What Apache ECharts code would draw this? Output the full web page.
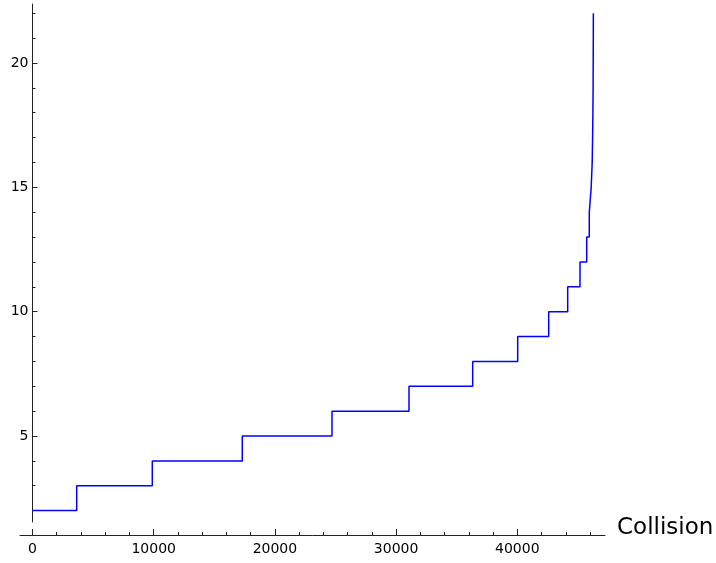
<!DOCTYPE html>
<html>
<head>
<meta charset="utf-8">
<script src="https://cdn.jsdelivr.net/npm/echarts@6/dist/echarts.min.js"></script>
<style>
html,body{margin:0;padding:0;background:#fff;}
#chart{width:716px;height:563px;}
</style>
</head>
<body>
<div id="chart"></div>
<script>
// Collision count at which each level begins (step function)
const collisions = [0, 3647, 9884, 17310, 24711, 31064, 36320, 40033, 42591, 44158, 45173, 45726, 45940, 46097, 46180, 46213, 46238, 46254, 46262, 46271, 46275];
const levels = [2, 3, 4, 5, 6, 7, 8, 9, 10, 11, 12, 13, 14, 15, 16, 17, 18, 19, 20, 21, 22];

const xMajorTicks = [0, 10000, 20000, 30000, 40000];
const xMinorTicks = [2000, 4000, 6000, 8000, 12000, 14000, 16000, 18000, 22000, 24000, 26000, 28000, 32000, 34000, 36000, 38000, 42000, 44000, 46000];
const yMajorTicks = [5, 10, 15, 20];
const yMinorTicks = [2, 3, 4, 6, 7, 8, 9, 11, 12, 13, 14, 16, 17, 18, 19, 21, 22];

const xName = 'Collision';
const xMin = -1031, xMax = 47236;
const yMin = 1.542, yMax = 22.373;

const data = collisions.map((c, i) => [c, levels[i]]);

const axisColor = '#222';
const font = 'DejaVu Sans';

const chart = echarts.init(document.getElementById('chart'), null, {renderer: 'canvas'});
chart.setOption({
  animation: false,
  backgroundColor: '#ffffff',
  grid: {left: 20, right: 111, top: 4, bottom: 41, containLabel: false, outerBoundsMode: 'none'},
  xAxis: [
    {
      type: 'value', min: xMin, max: xMax, position: 'bottom', offset: 13,
      axisLine: {show: true, onZero: false, lineStyle: {color: axisColor, width: 1}},
      axisTick: {show: true, inside: true, length: 6, customValues: xMajorTicks, lineStyle: {color: axisColor}},
      axisLabel: {customValues: xMajorTicks, fontSize: 14, fontFamily: font, color: '#000', margin: 7,
                  formatter: v => String(v)},
      splitLine: {show: false},
      name: xName, nameLocation: 'end', nameGap: 12,
      nameTextStyle: {fontSize: 23, fontFamily: font, color: '#000', align: 'left', verticalAlign: 'bottom', lineHeight: 13}
    },
    {
      type: 'value', min: xMin, max: xMax, position: 'bottom', offset: 13,
      axisLine: {show: false, onZero: false},
      axisTick: {show: true, inside: true, length: 3, customValues: xMinorTicks, lineStyle: {color: axisColor}},
      axisLabel: {show: false},
      splitLine: {show: false}
    }
  ],
  yAxis: [
    {
      type: 'value', min: yMin, max: yMax, position: 'left',
      axisLine: {show: true, onZero: true, onZeroAxisIndex: 0, lineStyle: {color: axisColor, width: 1}},
      axisTick: {show: true, inside: true, length: 5, customValues: yMajorTicks, lineStyle: {color: axisColor}},
      axisLabel: {customValues: yMajorTicks, fontSize: 14, fontFamily: font, color: '#000', margin: -8.5},
      splitLine: {show: false}
    },
    {
      type: 'value', min: yMin, max: yMax, position: 'left',
      axisLine: {show: false, onZero: true, onZeroAxisIndex: 0},
      axisTick: {show: true, inside: true, length: 3, customValues: yMinorTicks, lineStyle: {color: axisColor}},
      axisLabel: {show: false},
      splitLine: {show: false}
    }
  ],
  series: [{
    type: 'line', step: 'end', data: data, xAxisIndex: 0, yAxisIndex: 0,
    showSymbol: false, symbol: 'none',
    lineStyle: {color: '#0000ff', width: 1.5}
  }]
});
</script>
</body>
</html>
